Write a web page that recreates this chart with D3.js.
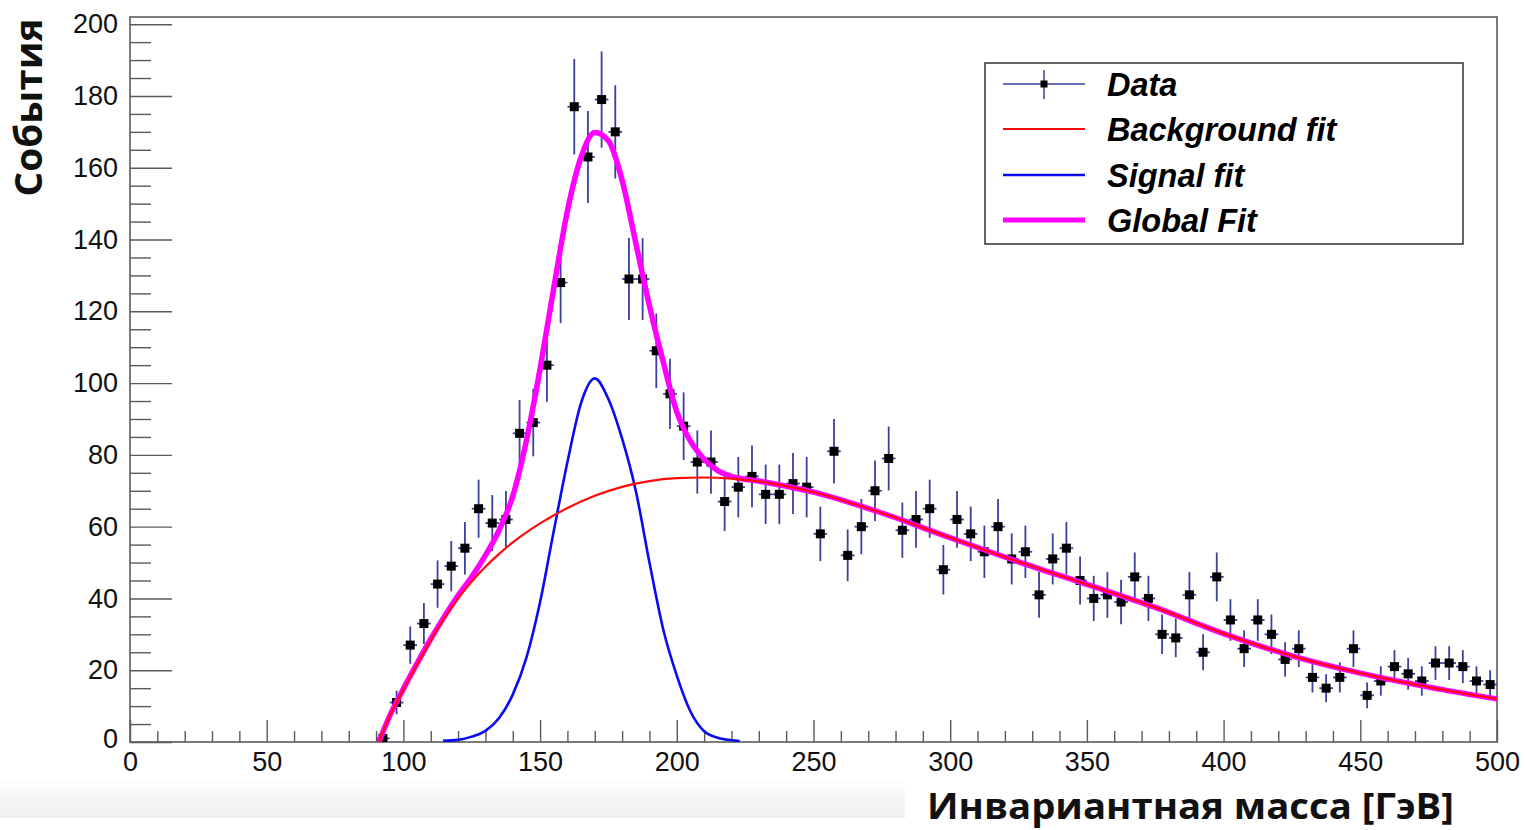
<!DOCTYPE html>
<html>
<head>
<meta charset="utf-8">
<script src="https://cdn.jsdelivr.net/npm/d3@7"></script>
<style>
  html, body { margin: 0; padding: 0; background: #fff; }
  svg { display: block; }
  .tick text { font-family: "Liberation Sans", Arial, sans-serif; font-size: 27px; fill: #111; }
  .tick line { stroke: #5a5a5a; stroke-width: 1.4; }
</style>
</head>
<body>
<div id="chart"></div>
<script>
// histogram bin centres [GeV] and event counts
const binCenters = [92.5, 97.5, 102.5, 107.5, 112.5, 117.5, 122.5, 127.5, 132.5, 137.5,
  142.5, 147.5, 152.5, 157.5, 162.5, 167.5, 172.5, 177.5, 182.5, 187.5,
  192.5, 197.5, 202.5, 207.5, 212.5, 217.5, 222.5, 227.5, 232.5, 237.5,
  242.5, 247.5, 252.5, 257.5, 262.5, 267.5, 272.5, 277.5, 282.5, 287.5,
  292.5, 297.5, 302.5, 307.5, 312.5, 317.5, 322.5, 327.5, 332.5, 337.5,
  342.5, 347.5, 352.5, 357.5, 362.5, 367.5, 372.5, 377.5, 382.5, 387.5,
  392.5, 397.5, 402.5, 407.5, 412.5, 417.5, 422.5, 427.5, 432.5, 437.5,
  442.5, 447.5, 452.5, 457.5, 462.5, 467.5, 472.5, 477.5, 482.5, 487.5,
  492.5, 497.5];
const counts = [1, 11, 27, 33, 44, 49, 54, 65, 61, 62,
  86, 89, 105, 128, 177, 163, 179, 170, 129, 129,
  109, 97, 88, 78, 78, 67, 71, 74, 69, 69,
  72, 71, 58, 81, 52, 60, 70, 79, 59, 62,
  65, 48, 62, 58, 53, 60, 51, 53, 41, 51,
  54, 45, 40, 41, 39, 46, 40, 30, 29, 41,
  25, 46, 34, 26, 34, 30, 23, 26, 18, 15,
  18, 26, 13, 17, 21, 19, 17, 22, 22, 21,
  17, 16];
const countErrors = [1.0, 3.3, 5.2, 5.7, 6.6, 7.0, 7.3, 8.1, 7.8, 7.9,
  9.3, 9.4, 10.2, 11.3, 13.3, 12.8, 13.4, 13.0, 11.4, 11.4,
  10.4, 9.8, 9.4, 8.8, 8.8, 8.2, 8.4, 8.6, 8.3, 8.3,
  8.5, 8.4, 7.6, 9.0, 7.2, 7.7, 8.4, 8.9, 7.7, 7.9,
  8.1, 6.9, 7.9, 7.6, 7.3, 7.7, 7.1, 7.3, 6.4, 7.1,
  7.3, 6.7, 6.3, 6.4, 6.2, 6.8, 6.3, 5.5, 5.4, 6.4,
  5.0, 6.8, 5.8, 5.1, 5.8, 5.5, 4.8, 5.1, 4.2, 3.9,
  4.2, 5.1, 3.6, 4.1, 4.6, 4.4, 4.1, 4.7, 4.7, 4.6,
  4.1, 4.0];
const binHalfWidth = 2.5;

// fitted curves
const bgX = [91, 95, 100, 105, 110, 115, 120, 125, 130, 135, 140, 145, 150, 160, 170, 180,
  190, 200, 210, 220, 230, 250, 275, 300, 325, 350, 375, 400, 425, 450, 475, 500];
const bgY = [0, 7.2, 14.6, 21.6, 28.3, 34.5, 40.0, 44.7, 48.8, 52.4, 55.6, 58.4, 60.9, 65.2, 68.6, 71.1,
  72.7, 73.5, 73.7, 73.4, 72.6, 69.6, 63.8, 56.9, 50.2, 43.9, 37.5, 30.2, 24, 19.2, 15.3, 12];

const sigX = [114.5, 120, 125, 130, 135, 140, 145, 150, 155, 160, 165, 170, 175, 180,
  185, 190, 195, 200, 205, 210, 215, 220, 223];
const sigY = [0.3, 0.6, 1.5, 3.1, 6.7, 13.2, 23.5, 39, 58.8, 78, 94.5, 101.3, 95.5, 84.5,
  70, 50, 31.5, 18.5, 8.5, 3.0, 1.2, 0.5, 0.3];

const globX = [91, 95, 100, 105, 110, 115, 120, 125, 130, 135, 140, 145, 150, 155, 160, 165,
  170, 175, 180, 185, 190, 195, 200, 205, 210, 215, 220, 230, 250, 275, 300, 325, 350,
  375, 400, 425, 450, 475, 500];
const globY = [0, 7.3, 14.8, 21.9, 28.7, 35.0, 40.8, 46.0, 52.0, 59.0, 68.5, 84, 104, 126.5, 148, 163,
  169.8, 167.5, 156.5, 139, 121.5, 106, 92, 83.8, 78.8, 75.6, 74.0, 72.7, 69.6, 63.8, 56.9, 50.2, 43.9,
  37.5, 30.2, 24, 19.2, 15.3, 12];

const xTickValues = [0, 50, 100, 150, 200, 250, 300, 350, 400, 450, 500];
const yTickValues = [0, 20, 40, 60, 80, 100, 120, 140, 160, 180, 200];

const legendLabels = ['Data', 'Background fit', 'Signal fit', 'Global Fit'];

const W = 1526, H = 830;
const frame = { left: 130, right: 1497, top: 17, bottom: 742 };
const errColor = '#3b3f9e';

const svg = d3.select('#chart').append('svg')
  .attr('width', W).attr('height', H);

// faint grey band left over in the screenshot
const defs = svg.append('defs');
const grad = defs.append('linearGradient').attr('id', 'band')
  .attr('x1', 0).attr('x2', 0).attr('y1', 0).attr('y2', 1);
grad.append('stop').attr('offset', '0%').attr('stop-color', '#ffffff');
grad.append('stop').attr('offset', '100%').attr('stop-color', '#efefef');
svg.append('rect').attr('x', 0).attr('y', 777).attr('width', 905).attr('height', 41)
  .attr('fill', 'url(#band)');

defs.append('clipPath').attr('id', 'plot-clip').append('rect')
  .attr('x', frame.left).attr('y', frame.top)
  .attr('width', frame.right - frame.left).attr('height', frame.bottom - frame.top);

const x = d3.scaleLinear().domain([0, 500]).range([frame.left, frame.right]);
const y = d3.scaleLinear().domain([0, 202]).range([frame.bottom, frame.top]);

// axes: ticks point into the frame, ROOT style
const xMinor = d3.range(0, 501, 10).filter(v => v % 50 !== 0);
const yMinor = d3.range(0, 201, 5).filter(v => v % 20 !== 0);

svg.append('g').attr('transform', `translate(0,${frame.bottom})`)
  .call(d3.axisBottom(x).tickValues(xMinor).tickSizeInner(-11).tickSizeOuter(0).tickFormat(''))
  .call(g => g.select('.domain').remove());
svg.append('g').attr('transform', `translate(0,${frame.bottom})`)
  .call(d3.axisBottom(x).tickValues(xTickValues).tickSizeInner(-22).tickSizeOuter(0).tickPadding(10))
  .call(g => g.select('.domain').remove());

svg.append('g').attr('transform', `translate(${frame.left},0)`)
  .call(d3.axisLeft(y).tickValues(yMinor).tickSizeInner(-21).tickSizeOuter(0).tickFormat(''))
  .call(g => g.select('.domain').remove());
const yAxisG = svg.append('g').attr('transform', `translate(${frame.left},0)`)
  .call(d3.axisLeft(y).tickValues(yTickValues).tickSizeInner(-42).tickSizeOuter(0).tickPadding(12))
  .call(g => g.select('.domain').remove());
// the "0" on the y axis sits a little lower, as ROOT draws it
yAxisG.selectAll('.tick text').filter(d => d === 0).attr('dy', '0.2em');

svg.append('rect')
  .attr('x', frame.left).attr('y', frame.top)
  .attr('width', frame.right - frame.left).attr('height', frame.bottom - frame.top)
  .attr('fill', 'none').attr('stroke', '#5a5a5a').attr('stroke-width', 1.6);

const plot = svg.append('g').attr('clip-path', 'url(#plot-clip)');

// data points with error bars
const points = binCenters.map((c, i) => ({ c, n: counts[i], e: countErrors[i] }));
const pts = plot.append('g').selectAll('g').data(points).join('g');
pts.append('line')
  .attr('x1', d => x(d.c - binHalfWidth)).attr('x2', d => x(d.c + binHalfWidth))
  .attr('y1', d => y(d.n)).attr('y2', d => y(d.n))
  .attr('stroke', errColor).attr('stroke-width', 1.8);
pts.append('line')
  .attr('x1', d => x(d.c)).attr('x2', d => x(d.c))
  .attr('y1', d => y(Math.max(0, d.n - d.e))).attr('y2', d => y(d.n + d.e))
  .attr('stroke', errColor).attr('stroke-width', 1.8);
pts.append('rect')
  .attr('x', d => x(d.c) - 4.5).attr('y', d => y(d.n) - 4.5)
  .attr('width', 9).attr('height', 9).attr('fill', '#000');

const line = d3.line().x(d => x(d[0])).y(d => y(d[1])).curve(d3.curveMonotoneX);

plot.append('path').datum(sigX.map((v, i) => [v, sigY[i]]))
  .attr('d', line).attr('fill', 'none').attr('stroke', '#0a0af5').attr('stroke-width', 2.6);
plot.append('path').datum(globX.map((v, i) => [v, globY[i]]))
  .attr('d', line).attr('fill', 'none').attr('stroke', '#ff00ff').attr('stroke-width', 5.5)
  .attr('stroke-linejoin', 'round');
plot.append('path').datum(bgX.map((v, i) => [v, bgY[i]]))
  .attr('d', line).attr('fill', 'none').attr('stroke', '#ff0a0a').attr('stroke-width', 2.2);

// legend
const legend = svg.append('g');
legend.append('rect').attr('x', 985).attr('y', 63).attr('width', 478).attr('height', 181)
  .attr('fill', '#fff').attr('stroke', '#333').attr('stroke-width', 1.5);
const rowY = [84, 129, 175, 220];
const legendStyle = [
  { color: errColor, width: 1.5 },
  { color: '#ff0a0a', width: 2.2 },
  { color: '#0a0af5', width: 2.4 },
  { color: '#ff00ff', width: 5 }
];
legendLabels.forEach((label, i) => {
  const yy = rowY[i];
  legend.append('line').attr('x1', 1003).attr('x2', 1085).attr('y1', yy).attr('y2', yy)
    .attr('stroke', legendStyle[i].color).attr('stroke-width', legendStyle[i].width);
  if (i === 0) {
    legend.append('line').attr('x1', 1044).attr('x2', 1044).attr('y1', yy - 14).attr('y2', yy + 15)
      .attr('stroke', errColor).attr('stroke-width', 1.5);
    legend.append('rect').attr('x', 1040.5).attr('y', yy - 3.5).attr('width', 7).attr('height', 7)
      .attr('fill', '#000');
  }
  legend.append('text').attr('x', 1107).attr('y', yy + 11.5)
    .style('font-family', '"Liberation Sans", Arial, sans-serif')
    .style('font-size', '32.5px').style('font-weight', 'bold').style('font-style', 'italic')
    .attr('fill', '#000').text(label);
});

// axis titles
svg.append('text')
  .attr('x', 927).attr('y', 819)
  .attr('textLength', 527).attr('lengthAdjust', 'spacingAndGlyphs')
  .style('font-family', '"Open Sans", "Noto Sans", sans-serif')
  .style('font-size', '35px').style('font-weight', 700).attr('fill', '#111')
  .text('Инвариантная масса [ГэВ]');

svg.append('text')
  .attr('transform', 'translate(42,107.5) rotate(-90)')
  .attr('text-anchor', 'middle')
  .attr('textLength', 178).attr('lengthAdjust', 'spacingAndGlyphs')
  .style('font-family', '"Open Sans", "Noto Sans", sans-serif')
  .style('font-size', '37px').style('font-weight', 700).attr('fill', '#111')
  .text('События');
</script>
</body>
</html>
